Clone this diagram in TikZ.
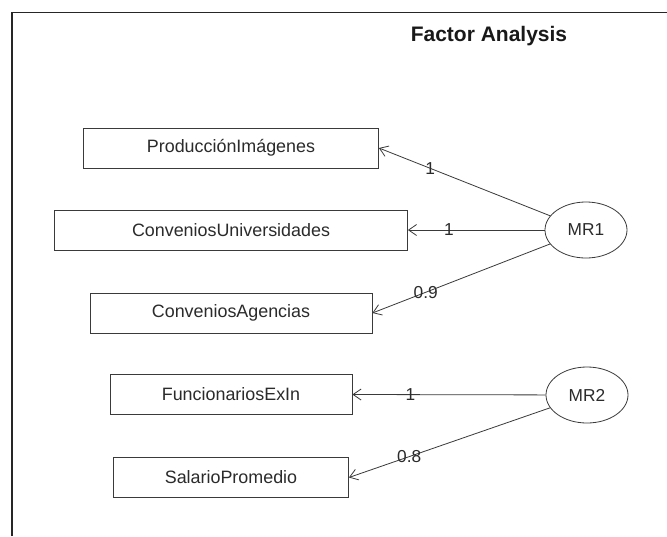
\documentclass[tikz,border=0pt]{standalone}
\usepackage{fontspec}
\setmainfont{Liberation Sans}
\usepackage{xcolor}
\definecolor{vizLine}{HTML}{3A3A3A}
\definecolor{vizText}{HTML}{2B2B2B}
\usetikzlibrary{shapes.geometric,arrows.meta}
\tikzset{
  varbox/.style={draw=vizLine, line width=0.8pt, minimum height=40pt, inner sep=0pt,
    text=vizText, font=\fontsize{17.9}{21}\selectfont},
  factor/.style={draw=vizLine, line width=0.8pt, ellipse, minimum width=82pt, minimum height=56pt,
    inner sep=0pt, text=vizText, font=\fontsize{17.3}{20}\selectfont},
  loading/.style={draw=vizLine, line width=0.8pt, -{Straight Barb[length=8pt,width=11pt]}},
  weight/.style={inner sep=0pt, text=vizText, font=\fontsize{17.3}{20}\selectfont}
}

\begin{document}
\begin{tikzpicture}[x=1pt, y=-1pt]
  \useasboundingbox (0,0) rectangle (667,536);
  \fill[white] (0,0) rectangle (667,536);
  \draw[line width=1.6pt, black!85] (12,536) -- (12,12.5) -- (667,12.5);
  \node[font=\bfseries\fontsize{21}{24}\selectfont, text=black!90] (title) at (489,36) {Factor Analysis};

  \node[varbox, minimum width=295pt] (prod) at (231,148) {ProducciónImágenes};
  \node[varbox, minimum width=353pt] (convuniv) at (231,230) {ConveniosUniversidades};
  \node[varbox, minimum width=282pt] (convag) at (231,313) {ConveniosAgencias};
  \node[varbox, minimum width=242pt] (funcio) at (231,394.5) {FuncionariosExIn};
  \node[varbox, minimum width=235pt] (salario) at (231,477.5) {SalarioPromedio};

  \node[factor] (mr1) at (586,230) {MR1};
  \node[factor] (mr2) at (587,395) {MR2};

  \draw[loading] (mr1) -- node[weight, pos=0.7] {1} (prod.east);
  \draw[loading] (mr1) -- node[weight, pos=0.7] {1} (convuniv.east);
  \draw[loading] (mr1) -- node[weight, pos=0.7] {0.9} (convag.east);
  \draw[loading] (mr2) -- node[weight, pos=0.7] {1} (funcio.east);
  \draw[loading] (mr2) -- node[weight, pos=0.7] {0.8} (salario.east);
\end{tikzpicture}
\end{document}
